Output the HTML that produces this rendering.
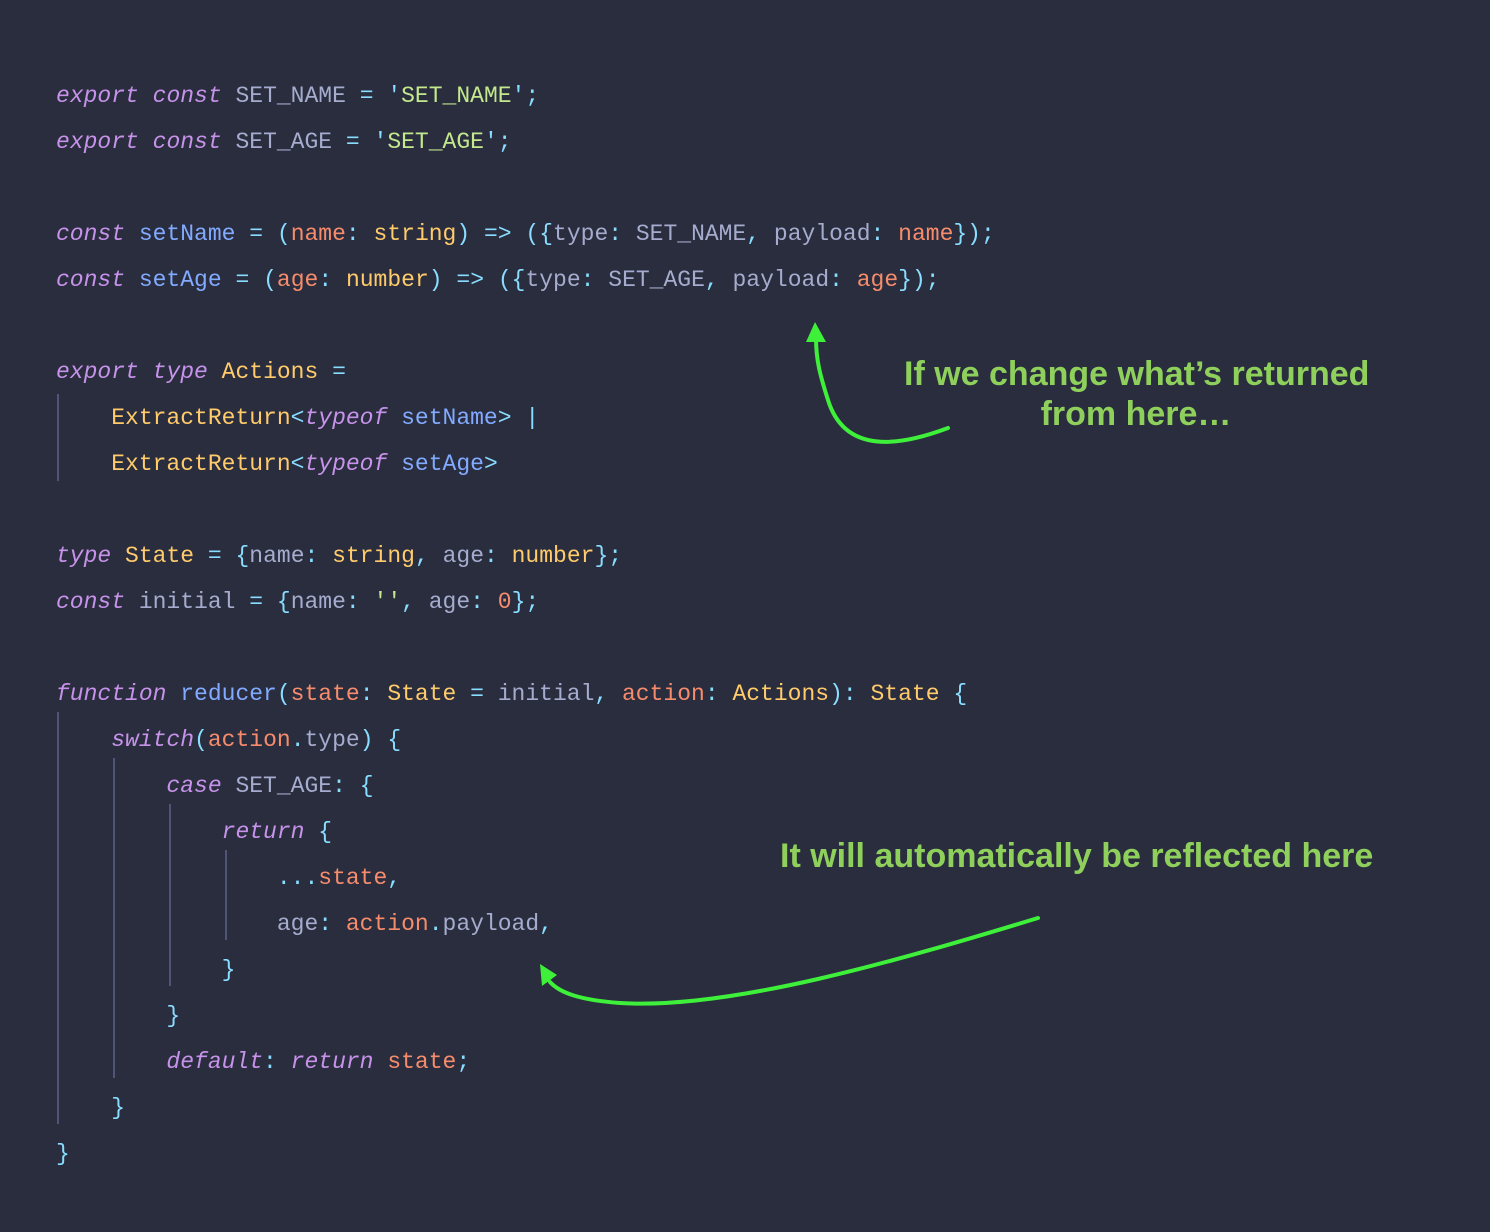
<!DOCTYPE html>
<html><head><meta charset="utf-8"><style>
html,body{margin:0;padding:0;}
body{width:1490px;height:1232px;background:#292d3e;position:relative;overflow:hidden;}
.l{position:absolute;left:56px;height:46px;line-height:46px;font-family:"Liberation Mono",monospace;font-size:23px;white-space:pre;color:#a6accd;}
.k{color:#c792ea;font-style:italic}
.f{color:#82aaff}.p{color:#f78c6c}.y{color:#ffcb6b}.s{color:#c3e88d}.c{color:#89ddff}
.g{position:absolute;width:2px;background:#4e5579;}
.a{position:absolute;font-family:"Liberation Sans",sans-serif;font-weight:bold;font-size:34px;color:#8fd05c;white-space:nowrap;}
</style></head><body>
<div class="l" style="top:73px"><span class="k">export</span> <span class="k">const</span> SET_NAME <span class="c">=</span> <span class="c">'</span><span class="s">SET_NAME</span><span class="c">';</span></div>
<div class="l" style="top:119px"><span class="k">export</span> <span class="k">const</span> SET_AGE <span class="c">=</span> <span class="c">'</span><span class="s">SET_AGE</span><span class="c">';</span></div>
<div class="l" style="top:211px"><span class="k">const</span> <span class="f">setName</span> <span class="c">=</span> <span class="c">(</span><span class="p">name</span><span class="c">:</span> <span class="y">string</span><span class="c">)</span> <span class="c">=&gt;</span> <span class="c">({</span>type<span class="c">:</span> SET_NAME<span class="c">,</span> payload<span class="c">:</span> <span class="p">name</span><span class="c">});</span></div>
<div class="l" style="top:257px"><span class="k">const</span> <span class="f">setAge</span> <span class="c">=</span> <span class="c">(</span><span class="p">age</span><span class="c">:</span> <span class="y">number</span><span class="c">)</span> <span class="c">=&gt;</span> <span class="c">({</span>type<span class="c">:</span> SET_AGE<span class="c">,</span> payload<span class="c">:</span> <span class="p">age</span><span class="c">});</span></div>
<div class="l" style="top:349px"><span class="k">export</span> <span class="k">type</span> <span class="y">Actions</span> <span class="c">=</span></div>
<div class="l" style="top:395px">    <span class="y">ExtractReturn</span><span class="c">&lt;</span><span class="k">typeof</span> <span class="f">setName</span><span class="c">&gt;</span> <span class="c">|</span></div>
<div class="l" style="top:441px">    <span class="y">ExtractReturn</span><span class="c">&lt;</span><span class="k">typeof</span> <span class="f">setAge</span><span class="c">&gt;</span></div>
<div class="l" style="top:533px"><span class="k">type</span> <span class="y">State</span> <span class="c">=</span> <span class="c">{</span>name<span class="c">:</span> <span class="y">string</span><span class="c">,</span> age<span class="c">:</span> <span class="y">number</span><span class="c">};</span></div>
<div class="l" style="top:579px"><span class="k">const</span> initial <span class="c">=</span> <span class="c">{</span>name<span class="c">:</span> <span class="s">''</span><span class="c">,</span> age<span class="c">:</span> <span class="p">0</span><span class="c">};</span></div>
<div class="l" style="top:671px"><span class="k">function</span> <span class="f">reducer</span><span class="c">(</span><span class="p">state</span><span class="c">:</span> <span class="y">State</span> <span class="c">=</span> initial<span class="c">,</span> <span class="p">action</span><span class="c">:</span> <span class="y">Actions</span><span class="c">):</span> <span class="y">State</span> <span class="c">{</span></div>
<div class="l" style="top:717px">    <span class="k">switch</span><span class="c">(</span><span class="p">action</span><span class="c">.</span>type<span class="c">)</span> <span class="c">{</span></div>
<div class="l" style="top:763px">        <span class="k">case</span> SET_AGE<span class="c">:</span> <span class="c">{</span></div>
<div class="l" style="top:809px">            <span class="k">return</span> <span class="c">{</span></div>
<div class="l" style="top:855px">                <span class="c">...</span><span class="p">state</span><span class="c">,</span></div>
<div class="l" style="top:901px">                age<span class="c">:</span> <span class="p">action</span><span class="c">.</span>payload<span class="c">,</span></div>
<div class="l" style="top:947px">            <span class="c">}</span></div>
<div class="l" style="top:993px">        <span class="c">}</span></div>
<div class="l" style="top:1039px">        <span class="k">default</span><span class="c">:</span> <span class="k">return</span> <span class="p">state</span><span class="c">;</span></div>
<div class="l" style="top:1085px">    <span class="c">}</span></div>
<div class="l" style="top:1131px"><span class="c">}</span></div>

<div class="g" style="left:57px;top:394px;height:87px"></div>
<div class="g" style="left:57px;top:712px;height:412px"></div>
<div class="g" style="left:113px;top:758px;height:320px"></div>
<div class="g" style="left:169px;top:804px;height:182px"></div>
<div class="g" style="left:225px;top:850px;height:90px"></div>

<div class="a" style="left:904px;top:355px">If we change what’s returned</div>
<div class="a" style="left:904px;top:395px;width:464px;text-align:center">from here…</div>
<div class="a" style="left:780px;top:837px">It will automatically be reflected here</div>

<svg width="1490" height="1232" style="position:absolute;left:0;top:0" xmlns="http://www.w3.org/2000/svg">
<path d="M948,428 C900,446 845,455 828,400 C820,375 816,360 816,338" fill="none" stroke="#3ef03a" stroke-width="4" stroke-linecap="round"/>
<polygon points="806,342 826,342 815,322" fill="#3ef03a"/>
<path d="M1038,918 C900,960 730,1010 620,1003 C580,1000 560,993 550,982" fill="none" stroke="#3ef03a" stroke-width="4" stroke-linecap="round"/>
<polygon points="540,964 542,986 557,975" fill="#3ef03a"/>
</svg>
</body></html>
